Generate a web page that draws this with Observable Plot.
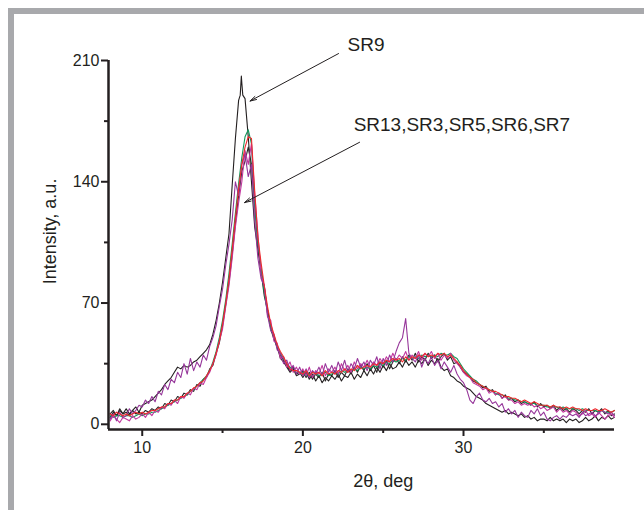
<!DOCTYPE html>
<html><head><meta charset="utf-8">
<script src="https://cdn.jsdelivr.net/npm/d3@7"></script>
<script src="https://cdn.jsdelivr.net/npm/@observablehq/plot@0.6"></script>
<style>
body{margin:0;background:#fff;}
#wrap{position:relative;width:644px;height:510px;overflow:hidden;background:#fff;}
#frame{position:absolute;left:8px;top:8px;width:700px;height:600px;border-top:6px solid #a8a9ac;border-left:6px solid #a8a9ac;}
#chart{position:absolute;left:0;top:0;}
</style></head>
<body><div id="wrap"><div id="frame"></div><div id="chart"></div></div>
<script>
// 2θ grid (deg), step 0.2 from 8.0 to 39.4
const angles = [
 8.0,8.2,8.4,8.6,8.8, 9.0,9.2,9.4,9.6,9.8, 10.0,10.2,10.4,10.6,10.8, 11.0,11.2,11.4,11.6,11.8,
 12.0,12.2,12.4,12.6,12.8, 13.0,13.2,13.4,13.6,13.8, 14.0,14.2,14.4,14.6,14.8, 15.0,15.2,15.4,15.6,15.8,
 16.0,16.2,16.4,16.6,16.8, 17.0,17.2,17.4,17.6,17.8, 18.0,18.2,18.4,18.6,18.8, 19.0,19.2,19.4,19.6,19.8,
 20.0,20.2,20.4,20.6,20.8, 21.0,21.2,21.4,21.6,21.8, 22.0,22.2,22.4,22.6,22.8, 23.0,23.2,23.4,23.6,23.8,
 24.0,24.2,24.4,24.6,24.8, 25.0,25.2,25.4,25.6,25.8, 26.0,26.2,26.4,26.6,26.8, 27.0,27.2,27.4,27.6,27.8,
 28.0,28.2,28.4,28.6,28.8, 29.0,29.2,29.4,29.6,29.8, 30.0,30.2,30.4,30.6,30.8, 31.0,31.2,31.4,31.6,31.8,
 32.0,32.2,32.4,32.6,32.8, 33.0,33.2,33.4,33.6,33.8, 34.0,34.2,34.4,34.6,34.8, 35.0,35.2,35.4,35.6,35.8,
 36.0,36.2,36.4,36.6,36.8, 37.0,37.2,37.4,37.6,37.8, 38.0,38.2,38.4,38.6,38.8, 39.0,39.2,39.4];

const sr9 = [
 4,7,5,8,6, 9,6,8,10,7, 11,12,13,14,16, 18,20,23,25,27, 30,33,32,34,33, 34,36,37,39,41,
 43,46,52,60,70, 82,96,110,138,165, 187,197,188,166,140, 114,101,88,79,66, 56,50,44,40,37, 34,31,33,29,30,
 27,30,26,29,25, 28,24,27,25,28, 26,29,25,28,27, 30,26,29,27,31, 28,32,29,33,30, 34,31,35,32,33,
 36,33,37,34,36, 33,37,35,38,34, 37,35,38,33,31, 32,28,27,25,24, 22,21,20,18,16, 15,14,12,11,10,
 9,8,7,8,6, 7,6,5,6,4, 5,3,4,2,3, 3,2,4,2,3, 2,3,1,3,2, 3,1,2,4,2, 3,5,2,4,3, 5,3,4];
// narrow top spike of SR9
const sr9SpikeAngles = [16.1,16.17,16.26];
const sr9SpikeValues = [190,201,190];

const sampleB = [
 6,8,5,9,6, 7,5,8,6,7, 6,8,7,9,8, 10,9,12,11,14, 13,16,15,18,17, 20,19,23,22,26,
 27,32,34,41,47, 57,69,82,98,116, 132,146,152,160,150, 128,104,88,74,66, 55,49,45,38,36, 33,30,32,28,29,
 31,27,30,26,29, 27,30,25,29,28, 31,27,30,28,32, 29,33,30,34,31, 35,31,34,30,36, 33,37,32,36,38,
 35,39,36,40,37, 41,36,39,37,41, 38,40,36,39,41, 37,39,35,36,33, 30,29,27,25,24, 23,21,22,19,20,
 17,18,15,17,14, 15,13,14,12,13, 12,11,13,10,12, 10,11,9,11,8, 10,8,9,7,9, 8,6,8,7,9, 6,8,7,9,6, 8,5,6];

const sampleG = [
 5,4,5,5,4, 5,5,4,5,6, 5,6,6,7,7, 8,9,10,11,12, 13,14,15,16,17, 19,20,22,24,26,
 28,31,36,42,50, 60,72,87,104,122, 139,154,166,170,162, 126,105,90,76,64, 56,51,45,41,38, 35,33,31,30,30,
 30,28,29,28,30, 28,29,30,28,29, 30,29,31,30,31, 31,32,31,33,32, 33,32,34,33,35, 34,36,35,37,36,
 37,38,37,39,38, 39,38,40,39,40, 39,40,39,41,40, 40,41,39,38,35, 32,30,28,26,25, 23,22,21,20,19,
 18,17,17,16,15, 15,14,14,13,13, 12,12,12,11,11, 11,10,10,10,10, 9,10,9,9,9, 9,8,9,8,8, 8,8,7,8,7, 7,7,8];

const sampleM2 = [
 2,5,3,1,4, 3,2,5,3,4, 6,4,7,5,8, 7,10,9,12,11, 14,12,16,15,18, 17,21,20,24,23,
 27,30,35,40,48, 55,68,80,96,114, 128,140,158,150,162, 133,110,86,80,62, 60,48,47,38,39, 33,36,30,33,29,
 32,28,33,27,31, 29,34,28,32,30, 33,29,35,31,34, 30,36,32,35,33, 37,33,36,34,38, 35,39,36,41,37,
 40,38,42,37,40, 38,42,37,41,39, 42,38,41,37,40, 38,41,37,35,33, 30,28,27,24,23, 22,20,21,18,19,
 17,18,15,16,14, 14,12,13,11,12, 11,12,10,11,9, 10,8,9,10,7, 9,7,8,6,8, 7,5,6,8,5, 6,4,7,5,3, 5,6,4];

const sampleM1 = [
 3,6,2,7,4, 5,9,6,8,11, 10,14,12,16,13, 19,17,23,20,26, 24,30,27,35,29, 38,31,36,33,40,
 37,45,50,57,68, 78,92,104,118,140, 132,150,156,143,150, 118,96,84,80,63, 54,52,43,41,35, 37,31,34,29,33,
 28,32,27,31,29, 33,28,35,30,34, 29,36,31,37,30, 35,32,38,33,36, 31,37,34,39,32, 38,34,40,36,42,
 47,50,61,41,38, 36,40,33,38,35, 39,34,37,32,36, 33,30,34,29,26, 24,20,14,12,16, 18,14,13,15,12,
 13,10,12,7,9, 6,8,4,7,5, 4,8,6,9,5, 7,3,2,4,5, 3,5,4,6,5, 6,4,7,5,6, 7,5,6,8,7, 6,7,5];

const sampleR = [
 6,5,7,6,5, 6,5,6,7,6, 7,6,7,8,8, 9,10,10,12,12, 14,14,16,16,18, 19,21,22,24,25,
 28,31,35,41,48, 58,70,84,101,119, 136,150,160,166,165, 135,108,93,80,68, 58,52,46,42,39, 35,32,31,31,30,
 29,31,28,30,29, 30,28,31,29,30, 29,31,30,32,30, 32,31,34,32,33, 34,33,35,34,36, 35,37,36,38,37,
 38,36,39,37,39, 38,40,39,41,39, 40,39,41,40,41, 39,40,38,36,34, 31,29,27,26,24, 23,22,21,20,19,
 19,18,17,16,16, 15,15,14,13,14, 13,12,13,12,11, 11,11,10,11,10, 10,9,10,9,10, 9,9,8,9,8, 8,9,8,8,9, 8,7,8];

const seriesNames = ["SR9","black","green","magenta2","magenta1","red"];
const seriesColors = ["#231f20","#2a2526","#12965a","#c2379e","#96369a","#ee2a2e"];
const seriesValues = [sr9, sampleB, sampleG, sampleM2, sampleM1, sampleR];

const xTicks = [10,20,30], xMinor = [15,25,35];
const yTicks = [0,70,140,210], yMinor = [35,105,175];

// annotations (data units)
const noteText = ["SR9","SR13,SR3,SR5,SR6,SR7"];
const noteX = [22.78,23.16], noteY = [219.2,172.8];
const arrowX1 = [22.22,23.53], arrowY1 = [214.0,162.8];
const arrowX2 = [16.71,16.37], arrowY2 = [186.6,128.0];
const xTitle = ["2θ, deg"], xTitleX = [25], xTitleY = [-33];
const yTitle = ["Intensity, a.u."], yTitleX = [4.25], yTitleY = [111.3];

const rows = seriesNames.flatMap((s,k) => {
  const pts = seriesValues[k].map((v,i) => ({x: angles[i], y: v, s}));
  if (s === "SR9") sr9SpikeAngles.forEach((a,j) => pts.push({x: a, y: sr9SpikeValues[j], s}));
  return pts.sort((a,b) => a.x - b.x);
});
const notes = noteText.map((t,i) => ({t, x: noteX[i], y: noteY[i]}));
const arrows = arrowX1.map((d,i) => ({x1: arrowX1[i], y1: arrowY1[i], x2: arrowX2[i], y2: arrowY2[i]}));
const ink = "#231f20";
const font = "'Liberation Sans', Arial, sans-serif";

const chart = Plot.plot({
  width: 644, height: 510,
  marginLeft: 108, marginRight: 30, marginTop: 60, marginBottom: 81,
  x: {domain: [7.9, 39.4]},
  y: {domain: [-3, 210]},
  color: {domain: seriesNames, range: seriesColors},
  style: {fontFamily: font, color: ink, background: "transparent", overflow: "visible"},
  marks: [
    Plot.line(rows, {x: "x", y: "y", z: "s", stroke: "s", strokeWidth: 1.1, curve: "linear"}),
    Plot.ruleX([7.9], {stroke: ink, strokeWidth: 2.5}),
    Plot.ruleY([-3], {stroke: ink, strokeWidth: 2.5}),
    Plot.axisX(xTicks, {tickSize: 7, tickPadding: 5, fontSize: 16, strokeWidth: 2, stroke: ink, label: null, tickFormat: d => String(d)}),
    Plot.axisX(xMinor, {tickSize: 4, strokeWidth: 2, stroke: ink, text: null, label: null}),
    Plot.axisY(yTicks, {tickSize: 7, tickPadding: 2, fontSize: 16, strokeWidth: 2, stroke: ink, label: null, tickFormat: d => String(d)}),
    Plot.axisY(yMinor, {tickSize: 4, strokeWidth: 2, stroke: ink, text: null, label: null}),
    Plot.arrow(arrows, {x1: "x1", y1: "y1", x2: "x2", y2: "y2", stroke: ink, strokeWidth: 1, headLength: 10, headAngle: 30}),
    Plot.text(notes, {x: "x", y: "y", text: "t", textAnchor: "start", lineAnchor: "middle", fontSize: 19, fill: ink}),
    Plot.text(xTitle, {x: () => xTitleX[0], y: () => xTitleY[0], text: d => d, fontSize: 18, fill: ink, lineAnchor: "middle"}),
    Plot.text(yTitle, {x: () => yTitleX[0], y: () => yTitleY[0], text: d => d, fontSize: 18, fill: ink, rotate: -90, lineAnchor: "middle"})
  ]
});
document.getElementById("chart").appendChild(chart);
</script>
</body></html>
